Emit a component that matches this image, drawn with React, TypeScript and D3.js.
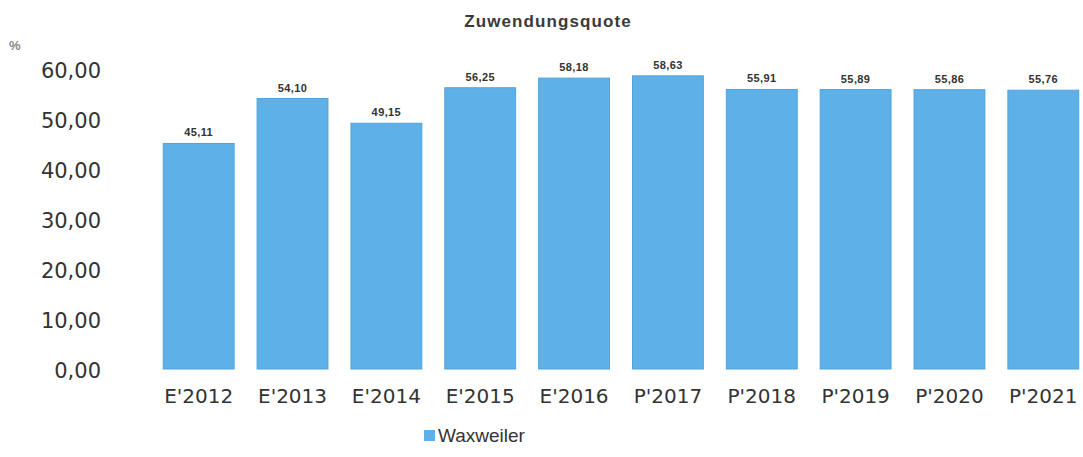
import * as d3 from 'd3';

const categories = ["E'2012", "E'2013", "E'2014", "E'2015", "E'2016", "P'2017", "P'2018", "P'2019", "P'2020", "P'2021"];
const values = [45.11, 54.1, 49.15, 56.25, 58.18, 58.63, 55.91, 55.89, 55.86, 55.76];
const yTicks = [0, 10, 20, 30, 40, 50, 60];
const seriesName = 'Waxweiler';

const fmt = (v: number) => v.toFixed(2).replace('.', ',');

export default function App() {
  const width = 1083;
  const height = 457;

  const x = d3.scaleBand<string>()
    .domain(categories)
    .range([152, 1090])
    .paddingInner(0.245)
    .paddingOuter(0.12);

  const y = d3.scaleLinear().domain([0, 60]).range([369, 69]);

  const barColor = '#5db1e8';

  return (
    <svg width={width} height={height} style={{ position: 'absolute', left: 0, top: 0, background: '#fff' }}>
      <text x={548} y={27} textAnchor="middle" fontFamily="Liberation Sans, Arial" fontWeight="bold" fontSize={17} letterSpacing={1.1} fill="#3a3a3a">
        Zuwendungsquote
      </text>
      <text x={9} y={50} fontFamily="Liberation Sans, Arial" fontSize={13} fontWeight="bold" fill="#888">%</text>

      {yTicks.map((t) => (
        <text
          key={t}
          x={101}
          y={y(t) + 3}
          textAnchor="end"
          dominantBaseline="middle"
          fontFamily="DejaVu Sans, Verdana"
          fontSize={21}
          fill="#333"
        >
          {fmt(t)}
        </text>
      ))}

      {categories.map((c, i) => {
        const bx = x(c) ?? 0;
        const top = y(values[i]);
        return (
          <g key={c}>
            <rect
              x={bx}
              y={top}
              width={x.bandwidth()}
              height={y(0) - top}
              fill={barColor}
              stroke="#4fa3dc"
              strokeWidth={1}
            />
            <text
              x={bx + x.bandwidth() / 2}
              y={top - 7}
              textAnchor="middle"
              fontFamily="Liberation Sans, Arial"
              fontWeight="bold"
              fontSize={11}
              letterSpacing={0.4}
              fill="#333"
            >
              {fmt(values[i])}
            </text>
            <text
              x={bx + x.bandwidth() / 2}
              y={403}
              textAnchor="middle"
              fontFamily="DejaVu Sans, Verdana"
              fontSize={20}
              fill="#333"
            >
              {c}
            </text>
          </g>
        );
      })}

      <rect x={424} y={430} width={11} height={11} fill={barColor} />
      <text x={438} y={442} fontFamily="Liberation Sans, Arial" fontSize={19} fill="#333">
        {seriesName}
      </text>
    </svg>
  );
}
